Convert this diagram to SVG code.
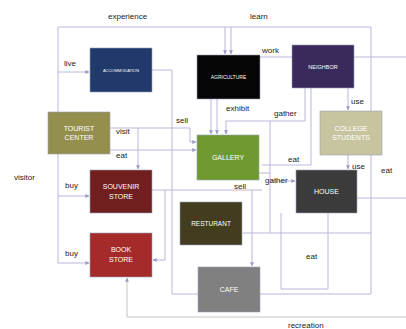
<svg xmlns="http://www.w3.org/2000/svg" width="406" height="329" viewBox="0 0 406 329">
<defs>
<marker id="ah" viewBox="0 0 6 6" refX="5.5" refY="3" markerWidth="4" markerHeight="4" orient="auto"><path d="M0,0 L6,3 L0,6 Z" fill="#9a9ac8"/></marker>
<style>
.n rect{stroke:#9aa0b8;stroke-width:0.6}
.t{fill:#ffffff;font-family:"Liberation Sans",Arial,sans-serif;text-anchor:middle}
.lb{fill:#222;font-family:"Liberation Sans",Arial,sans-serif;font-size:8px}
.c path{fill:none;stroke:#b8b8dc;stroke-width:1}
.c .a{marker-end:url(#ah)}
</style>
</defs>
<rect width="406" height="329" fill="#ffffff"/>
<g class="c" id="connectors">
<path d="M58,263 V27 H371 V294 H172 V70 H152"/>
<path class="a" d="M58,72 H89"/>
<path class="a" d="M58,196 H89"/>
<path class="a" d="M58,263 H89"/>
<path class="a" d="M110,128 H190 V142 H196"/>
<path class="a" d="M138,128 V169"/>
<path class="a" d="M110,150 H196"/>
<path class="a" d="M225,27 V54"/>
<path class="a" d="M231,27 V54"/>
<path class="a" d="M211,99 V134"/>
<path class="a" d="M217,99 V134"/>
<path d="M260,57 H406"/>
<path class="a" d="M305,88 V121 H226 V134"/>
<path d="M270,121 V233"/>
<path d="M311,88 V165 H262"/>
<path class="a" d="M348,88 V110"/>
<path class="a" d="M348,155 V169"/>
<path d="M357,198 H406"/>
<path d="M259,173 H270"/>
<path class="a" d="M270,181 H295"/>
<path d="M152,190 H262"/>
<path d="M243,233 H371"/>
<path class="a" d="M252,190 V266"/>
<path d="M281,213 V289 H328 V213"/>
<path class="a" d="M165,190 V260 H153"/>
<path class="a" d="M406,317 H127 V278" style="stroke:#c4c4c4"/>
</g>
<g class="n" id="accommodation"><rect x="90" y="48" width="62" height="44" fill="#1f3a6b"/><text class="t" x="121" y="72" font-size="4">ACCOMMODATION</text></g>
<g class="n" id="agriculture"><rect x="197" y="55" width="63" height="44" fill="#050505"/><text class="t" x="228.5" y="79" font-size="5">AGRICULTURE</text></g>
<g class="n" id="neighbor"><rect x="292" y="45" width="62" height="43" fill="#3a2a5c"/><text class="t" x="323" y="69" font-size="5.5">NEIGHBOR</text></g>
<g class="n" id="tourist-center"><rect x="48" y="112" width="62" height="42" fill="#958f4e"/><text class="t" x="79" y="131" font-size="7">TOURIST</text><text class="t" x="79" y="140" font-size="7">CENTER</text></g>
<g class="n" id="gallery"><rect x="197" y="135" width="62" height="45" fill="#6e9a30"/><text class="t" x="228" y="160" font-size="7">GALLERY</text></g>
<g class="n" id="students"><rect x="320" y="111" width="62" height="44" fill="#c7c4a0"/><text class="t" x="351" y="131" font-size="7">COLLEGE</text><text class="t" x="351" y="140" font-size="7">STUDENTS</text></g>
<g class="n" id="souvenir-store"><rect x="90" y="170" width="62" height="43" fill="#701e1e"/><text class="t" x="121" y="189" font-size="7">SOUVENIR</text><text class="t" x="121" y="199" font-size="7">STORE</text></g>
<g class="n" id="house"><rect x="296" y="170" width="61" height="43" fill="#3b3b3b"/><text class="t" x="326.5" y="194" font-size="7">HOUSE</text></g>
<g class="n" id="resturant"><rect x="180" y="202" width="62" height="43" fill="#433d20"/><text class="t" x="211" y="226" font-size="6.5">RESTURANT</text></g>
<g class="n" id="book-store"><rect x="90" y="233" width="62" height="44" fill="#a52a2a"/><text class="t" x="121" y="252" font-size="7">BOOK</text><text class="t" x="121" y="262" font-size="7">STORE</text></g>
<g class="n" id="cafe"><rect x="198" y="267" width="62" height="45" fill="#808080"/><text class="t" x="229" y="292" font-size="7">CAFE</text></g>
<g id="labels">
<text class="lb" x="108" y="19">experience</text>
<text class="lb" x="250" y="19">learn</text>
<text class="lb" x="64" y="66">live</text>
<text class="lb" x="262" y="53">work</text>
<text class="lb" x="226" y="111">exhibit</text>
<text class="lb" x="176" y="123">sell</text>
<text class="lb" x="274" y="116">gather</text>
<text class="lb" x="351" y="104">use</text>
<text class="lb" x="116" y="134">visit</text>
<text class="lb" x="116" y="158">eat</text>
<text class="lb" x="14" y="180">visitor</text>
<text class="lb" x="65" y="188">buy</text>
<text class="lb" x="288" y="162">eat</text>
<text class="lb" x="352" y="169">use</text>
<text class="lb" x="381" y="173">eat</text>
<text class="lb" x="265" y="183">gather</text>
<text class="lb" x="234" y="189">sell</text>
<text class="lb" x="65" y="256">buy</text>
<text class="lb" x="306" y="259">eat</text>
<text class="lb" x="288" y="328">recreation</text>
</g>
</svg>
